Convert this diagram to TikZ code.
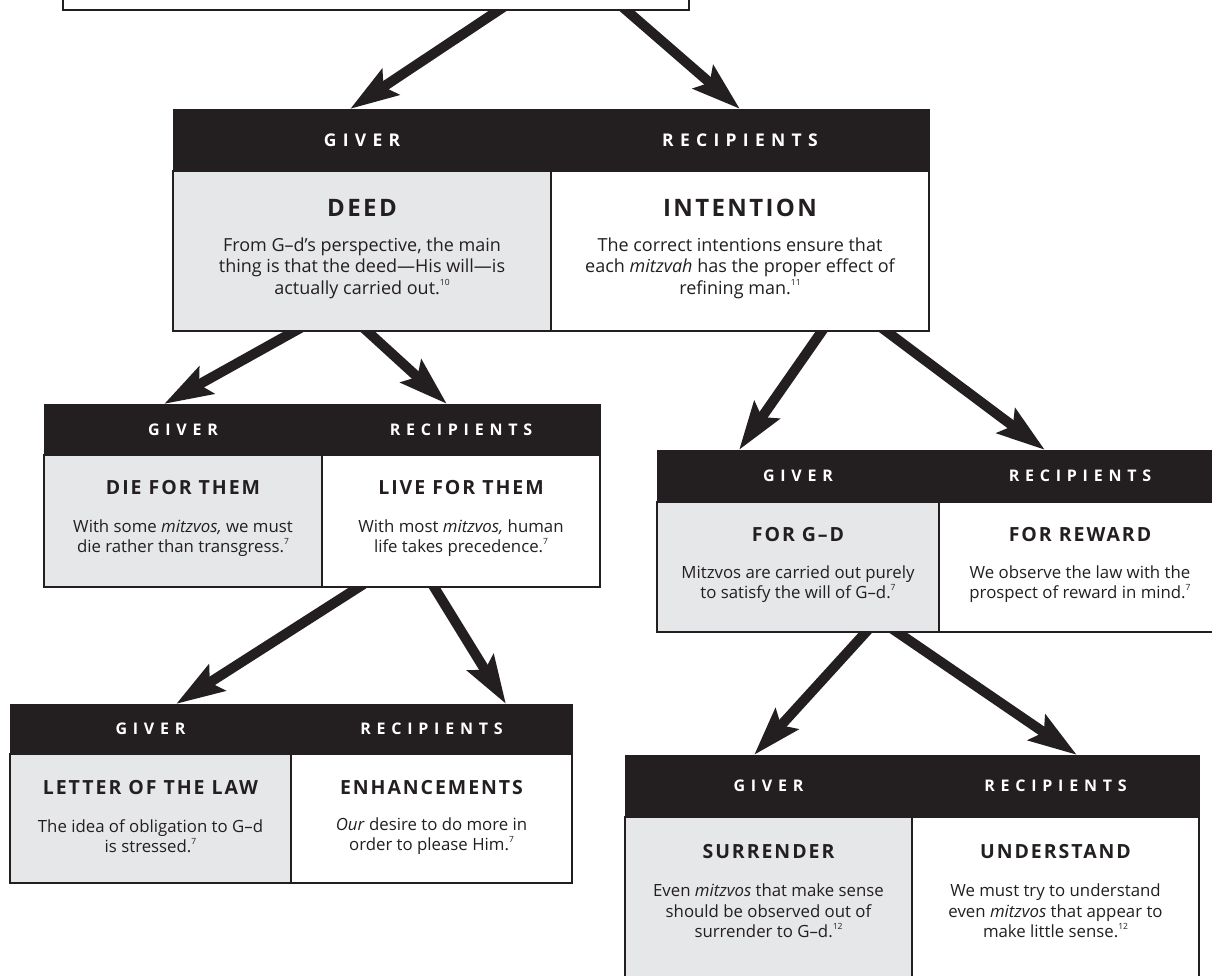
\documentclass[tikz,border=0pt]{standalone}
\usepackage{fontspec}
\setmainfont{Open Sans}
\newfontfamily\hdrfont[LetterSpace=36]{Open Sans}
\newfontfamily\ttlfont[LetterSpace=10]{Open Sans}
\usetikzlibrary{arrows.meta,calc,backgrounds}
\definecolor{ink}{RGB}{35,31,32}
\definecolor{cellgray}{RGB}{230,231,232}
\newcommand\sups[1]{\raisebox{0.48em}{\fontsize{8.5}{8.5}\selectfont #1}}
\newcommand\mkpanel[6]{%
  \node[hdrbox, minimum width=2*#4, minimum height=#5, anchor=north west] (#1h) at (#2,#3) {};
  \node[cellg, minimum width=#4, minimum height=#6, anchor=north west] (#1l) at (#1h.south west) {};
  \node[cellw, minimum width=#4, minimum height=#6, anchor=north west] (#1r) at (#1h.south) {};
}
\tikzset{
  hdrbox/.style={draw=ink, fill=ink, line width=1pt, inner sep=0pt, outer sep=0pt},
  cellg/.style={draw=ink, fill=cellgray, line width=2pt, inner sep=0pt, outer sep=0pt},
  cellw/.style={draw=ink, fill=white, line width=2pt, inner sep=0pt, outer sep=0pt},
  hdrA/.style={text=white, inner sep=0pt, font=\hdrfont\bfseries\fontsize{17.5}{20}\selectfont},
  hdrB/.style={text=white, inner sep=0pt, font=\hdrfont\bfseries\fontsize{16}{19}\selectfont},
  ttlA/.style={text=ink, inner sep=0pt, font=\ttlfont\bfseries\fontsize{24}{27}\selectfont},
  ttlB/.style={text=ink, inner sep=0pt, font=\ttlfont\bfseries\fontsize{19.5}{22}\selectfont},
  bodyA/.style={text=ink, inner sep=0pt, align=center, font=\fontsize{18}{21.5}\selectfont},
  bodyB/.style={text=ink, inner sep=0pt, align=center, font=\fontsize{16.8}{20.5}\selectfont},
  bigarrow/.style={draw=ink, line width=10pt, -{Stealth[length=48pt,width=30pt,inset=8pt]}}
}
\begin{document}
\begin{tikzpicture}[x=1pt,y=-1pt]
\useasboundingbox (0,0) rectangle (1212,975);
\clip (0,0) rectangle (1212,975);

% top box (cut off)
\node[cellw, minimum width=626, minimum height=60, anchor=south west] (top) at (63,10) {};

% panels
\mkpanel{b1}{173}{109}{378}{62}{160}
\mkpanel{b2}{44}{404}{278}{51}{132}
\mkpanel{b3}{657}{450}{282}{52}{130}
\mkpanel{b4}{10}{704}{281}{50}{129}
\mkpanel{b5}{625}{755}{287}{62}{250}

% panel 1
\node[hdrA] (b1hg) at (b1l |- b1h) {GIVER};
\node[hdrA] (b1hr) at (b1r |- b1h) {RECIPIENTS};
\node[ttlA] (b1lt) at ([yshift=-37]b1l.north) {DEED};
\node[ttlA] (b1rt) at ([yshift=-37]b1r.north) {INTENTION};
\node[bodyA] (b1lb) at ([yshift=-97]b1l.north) {From G–d’s perspective, the main\\thing is that the deed—His will—is\\actually carried out.\sups{10}};
\node[bodyA] (b1rb) at ([yshift=-97]b1r.north) {The correct intentions ensure that\\each \textit{mitzvah} has the proper effect of\\refining man.\sups{11}};

% panel 2
\node[hdrB] (b2hg) at (b2l |- b2h) {GIVER};
\node[hdrB] (b2hr) at (b2r |- b2h) {RECIPIENTS};
\node[ttlB] (b2lt) at ([yshift=-33]b2l.north) {DIE FOR THEM};
\node[ttlB] (b2rt) at ([yshift=-33]b2r.north) {LIVE FOR THEM};
\node[bodyB] (b2lb) at ([yshift=-83]b2l.north) {With some \textit{mitzvos,} we must\\die rather than transgress.\sups{7}};
\node[bodyB] (b2rb) at ([yshift=-83]b2r.north) {With most \textit{mitzvos,} human\\life takes precedence.\sups{7}};

% panel 3
\node[hdrB] (b3hg) at (b3l |- b3h) {GIVER};
\node[hdrB] (b3hr) at (b3r |- b3h) {RECIPIENTS};
\node[ttlB] (b3lt) at ([yshift=-33]b3l.north) {FOR G–D};
\node[ttlB] (b3rt) at ([yshift=-33]b3r.north) {FOR REWARD};
\node[bodyB] (b3lb) at ([yshift=-82]b3l.north) {Mitzvos are carried out purely\\to satisfy the will of G–d.\sups{7}};
\node[bodyB] (b3rb) at ([yshift=-82]b3r.north) {We observe the law with the\\prospect of reward in mind.\sups{7}};

% panel 4
\node[hdrB] (b4hg) at (b4l |- b4h) {GIVER};
\node[hdrB] (b4hr) at (b4r |- b4h) {RECIPIENTS};
\node[ttlB] (b4lt) at ([yshift=-34]b4l.north) {LETTER OF THE LAW};
\node[ttlB] (b4rt) at ([yshift=-34]b4r.north) {ENHANCEMENTS};
\node[bodyB] (b4lb) at ([yshift=-82]b4l.north) {The idea of obligation to G–d\\is stressed.\sups{7}};
\node[bodyB] (b4rb) at ([yshift=-82]b4r.north) {\textit{Our} desire to do more in\\order to please Him.\sups{7}};

% panel 5
\node[hdrB] (b5hg) at (b5l |- b5h) {GIVER};
\node[hdrB] (b5hr) at (b5r |- b5h) {RECIPIENTS};
\node[ttlB] (b5lt) at ([yshift=-35]b5l.north) {SURRENDER};
\node[ttlB] (b5rt) at ([yshift=-35]b5r.north) {UNDERSTAND};
\node[bodyB] (b5lb) at ([yshift=-94]b5l.north) {Even \textit{mitzvos} that make sense\\should be observed out of\\surrender to G–d.\sups{12}};
\node[bodyB] (b5rb) at ([yshift=-94]b5r.north) {We must try to understand\\even \textit{mitzvos} that appear to\\make little sense.\sups{12}};

% connector end points
\coordinate (a1s) at ([xshift=436]top.south west);
\coordinate (a1e) at ([xshift=177]b1h.north west);
\coordinate (a2s) at ([xshift=563]top.south west);
\coordinate (a2e) at ([xshift=567]b1h.north west);
\coordinate (a3s) at ([xshift=122]b1l.south west);
\coordinate (a3e) at ([xshift=120]b2h.north west);
\coordinate (a4s) at ([xshift=194]b1l.south west);
\coordinate (a4e) at ([xshift=403]b2h.north west);
\coordinate (a5s) at ([xshift=649]b1l.south west);
\coordinate (a5e) at ([xshift=82]b3h.north west);
\coordinate (a6s) at ([xshift=713]b1l.south west);
\coordinate (a6e) at ([xshift=388]b3h.north west);
\coordinate (a7s) at ([xshift=315]b2l.south west);
\coordinate (a7e) at ([xshift=166]b4h.north west);
\coordinate (a8s) at ([xshift=390]b2l.south west);
\coordinate (a8e) at ([xshift=496]b4h.north west);
\coordinate (a9s) at ([xshift=209]b3l.south west);
\coordinate (a9e) at ([xshift=129]b5h.north west);
\coordinate (a10s) at ([xshift=240]b3l.south west);
\coordinate (a10e) at ([xshift=452]b5h.north west);

\begin{scope}[on background layer]
\foreach \i in {1,...,10}{
  \draw[bigarrow] ($(a\i s)!-14pt!(a\i e)$) -- (a\i e);
}
\end{scope}
\end{tikzpicture}
\end{document}
